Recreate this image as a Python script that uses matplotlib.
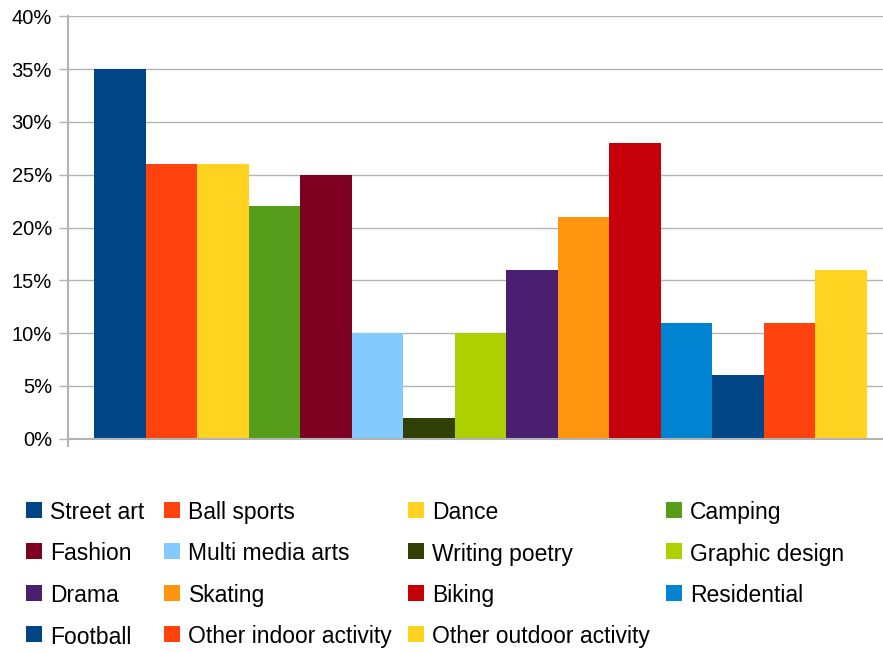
import matplotlib
matplotlib.use("Agg")
import matplotlib.pyplot as plt
from matplotlib.patches import Rectangle
from matplotlib.ticker import FuncFormatter

categories = ["Street art", "Ball sports", "Dance", "Camping",
              "Fashion", "Multi media arts", "Writing poetry", "Graphic design",
              "Drama", "Skating", "Biking", "Residential",
              "Football", "Other indoor activity", "Other outdoor activity"]
values = [35, 26, 26, 22, 25, 10, 2, 10, 16, 21, 28, 11, 6, 11, 16]
colors = ["#004586", "#ff420e", "#ffd320", "#579d1c",
          "#7e0021", "#83caff", "#314004", "#aecf00",
          "#4b1f6f", "#ff950e", "#c5000b", "#0084d1",
          "#004586", "#ff420e", "#ffd320"]
yticks = [0, 5, 10, 15, 20, 25, 30, 35, 40]

FONT = ["Liberation Sans", "DejaVu Sans"]
plt.rcParams["font.family"] = FONT

W, H = 883, 652
fig = plt.figure(figsize=(W / 100, H / 100), dpi=100)
fig.patch.set_facecolor("white")

# axes geometry in pixels
left_px, right_px = 68, 893
top_px, bottom_px = 16.3, 438.7
ax = fig.add_axes([left_px / W, 1 - bottom_px / H,
                   (right_px - left_px) / W, (bottom_px - top_px) / H])

x = list(range(len(values)))
ax.bar(x, values, width=1.0, color=colors, zorder=3, linewidth=0)

pad = 0.505
ax.set_xlim(-0.5 - pad, len(values) - 0.5 + pad)
ax.set_ylim(0, 40)
ax.set_yticks(yticks)
ax.yaxis.set_major_formatter(FuncFormatter(lambda v, p: f"{int(v)}%"))

grid_c = "#b3b3b3"
ax.grid(axis="y", color=grid_c, linewidth=1.0, zorder=0)
ax.tick_params(axis="y", length=6.5, width=1.0, color=grid_c, pad=5,
               labelsize=14.5, labelcolor="black")
ax.set_xticks([-0.5 - pad])
ax.tick_params(axis="x", length=6, width=1.5, color=grid_c, labelbottom=False)

for s in ["top", "right"]:
    ax.spines[s].set_visible(False)
ax.spines["left"].set_color(grid_c)
ax.spines["left"].set_linewidth(1.5)
ax.spines["bottom"].set_color(grid_c)
ax.spines["bottom"].set_linewidth(1.5)
ax.spines["bottom"].set_zorder(4)

# legend drawn in pixel coordinates
lax = fig.add_axes([0, 0, 1, 1])
lax.set_xlim(0, W)
lax.set_ylim(H, 0)
lax.axis("off")
col_x = [26, 164, 408, 665.5]
row_y = [509.5, 551, 592.5, 634]
for i, (lab, c) in enumerate(zip(categories, colors)):
    r, cidx = divmod(i, 4)
    sx, sy = col_x[cidx], row_y[r]
    lax.add_patch(Rectangle((sx, sy - 8), 16, 16, facecolor=c, edgecolor="none"))
    lax.text(sx + 24.5, sy + 9.5, lab, fontsize=16.5, va="baseline", ha="left",
             color="black")

fig.savefig("out.png", dpi=100)
